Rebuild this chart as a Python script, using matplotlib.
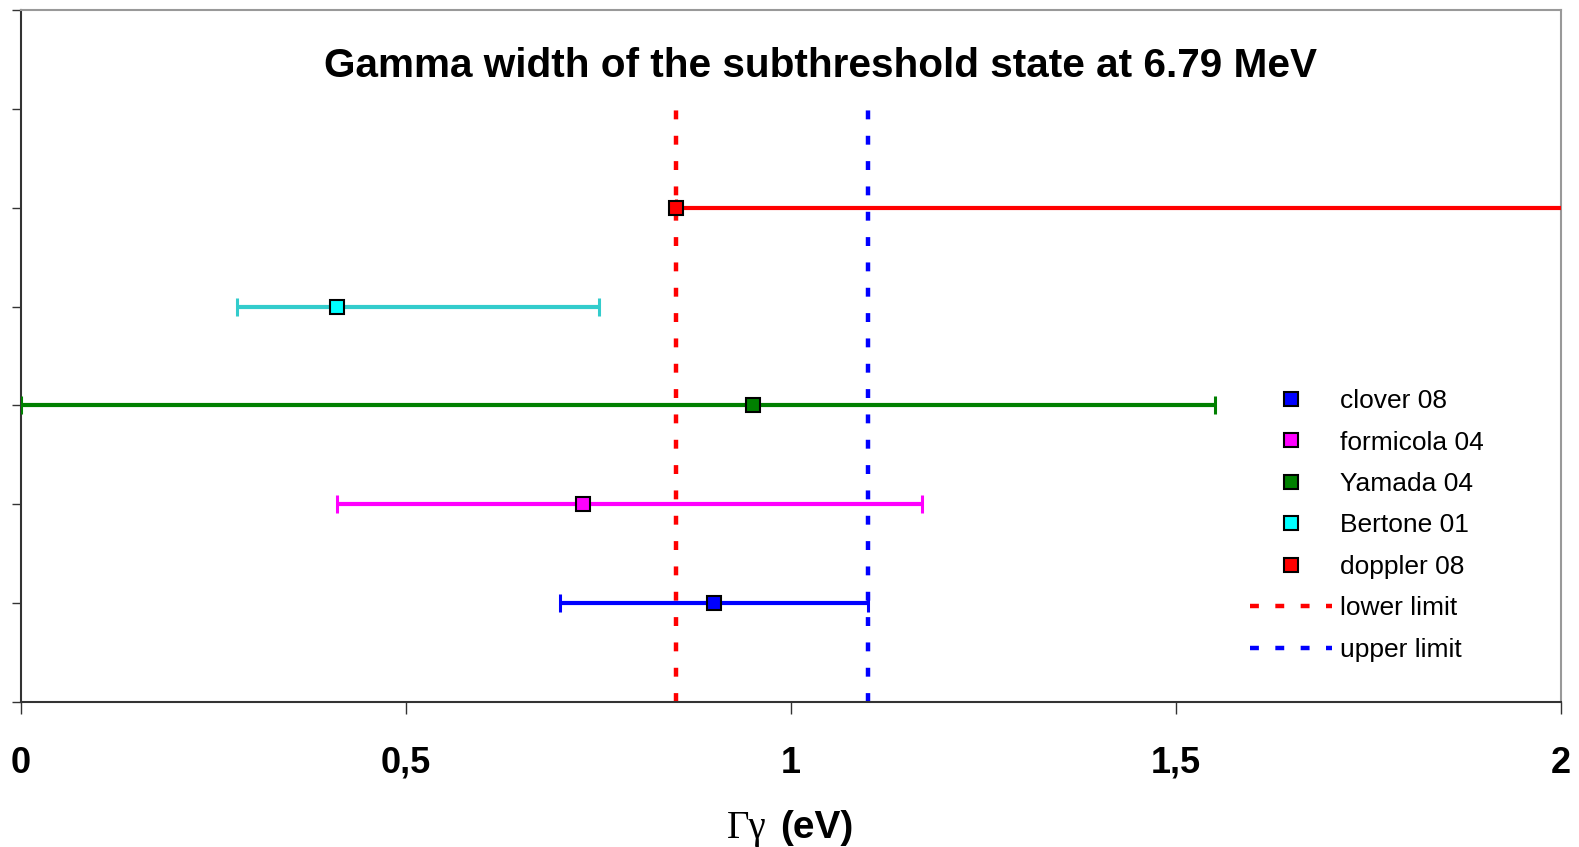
import numpy as np
import matplotlib
matplotlib.use("Agg")
import matplotlib.pyplot as plt
from matplotlib.lines import Line2D
from matplotlib.ticker import FuncFormatter

plt.rcParams['font.family'] = ['Liberation Sans', 'DejaVu Sans']

# data
studies = ['clover 08', 'formicola 04', 'Yamada 04', 'Bertone 01', 'doppler 08']
gamma_w = [0.90, 0.73, 0.95, 0.41, 0.85]
err_low = [0.70, 0.41, 0.00, 0.28, 0.85]
err_high = [1.10, 1.17, 1.55, 0.75, 2.50]
ypos = [1, 2, 3, 4, 5]
marker_col = ['#0000FF', '#FF00FF', '#008000', '#00FFFF', '#FF0000']
bar_col = ['#0000FF', '#FF00FF', '#008000', '#33CCCC', '#FF0000']
lower_limit = 0.85
upper_limit = 1.10
xticks = [0, 0.5, 1, 1.5, 2]

W, H = 1579, 847
fig = plt.figure(figsize=(W / 100, H / 100), dpi=100)
ax = fig.add_axes([21 / W, 1 - 702 / H, 1540 / W, 692 / H])

# limits (dotted verticals from 0 to 6)
ax.plot([lower_limit, lower_limit], [0, 6], color='#FF0000', lw=3.2,
        dashes=(2.0, 3.7), solid_capstyle='butt', dash_capstyle='butt', zorder=2)
ax.plot([upper_limit, upper_limit], [0, 6], color='#0000FF', lw=3.2,
        dashes=(2.0, 3.7), solid_capstyle='butt', dash_capstyle='butt', zorder=2)

for i in range(len(studies)):
    lo = gamma_w[i] - err_low[i]
    hi = err_high[i] - gamma_w[i]
    ax.errorbar(gamma_w[i], ypos[i], xerr=[[lo], [hi]], fmt='none',
                ecolor=bar_col[i], elinewidth=3.0, capsize=6.5, capthick=2.2,
                zorder=3, clip_on=True)
    ax.plot(gamma_w[i], ypos[i], 's', ms=10.5, mfc=marker_col[i], mec='black',
            mew=1.5, zorder=4, clip_on=False)

ax.set_xlim(0, 2)
ax.set_ylim(0, 7)
ax.set_xticks(xticks)
ax.xaxis.set_major_formatter(FuncFormatter(lambda v, p: ('%g' % v).replace('.', ',')))
ax.set_yticks(np.arange(0, 8))
ax.set_yticklabels([])
ax.tick_params(axis='x', direction='out', length=8.6, width=1, color='#333333',
               pad=23, labelsize=26)
ax.tick_params(axis='y', direction='out', length=6.5, width=1, color='#333333')
for lab in ax.get_xticklabels():
    lab.set_fontweight('bold')

for s in ['left', 'bottom']:
    ax.spines[s].set_color('#333333')
    ax.spines[s].set_linewidth(1.5)
for s in ['top', 'right']:
    ax.spines[s].set_color('#999999')
    ax.spines[s].set_linewidth(1.5)

# title
fig.text(820 / W, 1 - 66 / H, 'Gamma width of the subthreshold state at 6.79 MeV',
         ha='center', va='center', fontsize=29.2, fontweight='bold')

# x label: serif greek + bold sans unit
fig.text(767 / W, 1 - 838 / H, 'Γγ', ha='right', va='baseline', fontsize=28,
         family=['Liberation Serif', 'DejaVu Serif'])
fig.text(780 / W, 1 - 838 / H, '(eV)', ha='left', va='baseline', fontsize=28,
         fontweight='bold')

# legend
handles = []
for i in range(len(studies)):
    handles.append(Line2D([], [], ls='none', marker='s', ms=9.5, mfc=marker_col[i],
                          mec='black', mew=1.5))
handles.append(Line2D([], [], color='#FF0000', lw=3.2, dashes=(2.0, 3.7)))
handles.append(Line2D([], [], color='#0000FF', lw=3.2, dashes=(2.0, 3.7)))
labels = studies + ['lower limit', 'upper limit']
fig.legend(handles, labels, loc='center left', frameon=False,
           bbox_to_anchor=(1250 / W, 1 - 525.5 / H), bbox_transform=fig.transFigure,
           borderpad=0, borderaxespad=0, fontsize=19, handlelength=3.1,
           handletextpad=0.3, labelspacing=0.66)

fig.savefig('out.png', dpi=100)
